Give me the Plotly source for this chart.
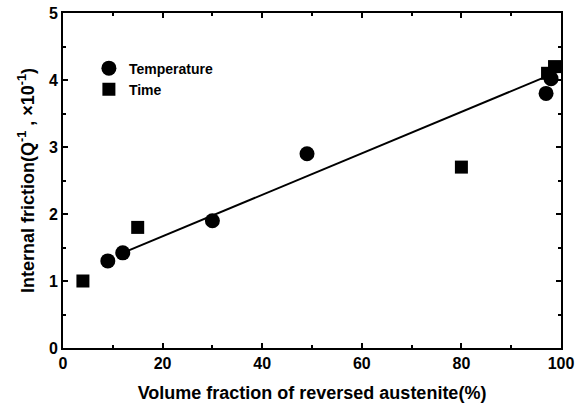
import plotly.graph_objects as go

temp_x = [9, 12, 30, 49, 97, 98]
temp_y = [1.3, 1.42, 1.9, 2.9, 3.8, 4.02]
time_x = [4, 15, 80, 97.3, 98.7]
time_y = [1.0, 1.8, 2.7, 4.1, 4.2]
fit_x = [12, 97]
fit_y = [1.42, 4.05]

FONT = "Liberation Sans, Arial, sans-serif"

fig = go.Figure()
fig.add_trace(go.Scatter(x=fit_x, y=fit_y, mode="lines",
                         line=dict(color="black", width=2), showlegend=False))
fig.add_trace(go.Scatter(x=temp_x, y=temp_y, mode="markers", name="Temperature",
                         marker=dict(symbol="circle", size=15, color="black")))
fig.add_trace(go.Scatter(x=time_x, y=time_y, mode="markers", name="Time",
                         marker=dict(symbol="square", size=13, color="black")))

axis_common = dict(showline=True, linecolor="black", linewidth=2, mirror="ticks",
                   ticks="inside", ticklen=5, tickwidth=1.5, tickcolor="black",
                   showgrid=False, zeroline=False, automargin=False,
                   tickfont=dict(family=FONT, size=16, color="black", weight="bold"))

fig.update_xaxes(range=[0, 100], dtick=20, tick0=0,
                 minor=dict(ticks="inside", ticklen=3, dtick=10, tickcolor="black", tickwidth=1.5),
                 title=dict(text="Volume fraction of reversed austenite(%)", standoff=16,
                            font=dict(family=FONT, size=18, color="black", weight="bold")),
                 **axis_common)
fig.update_yaxes(range=[0, 5], dtick=1, tick0=0,
                 minor=dict(ticks="inside", ticklen=3, dtick=0.5, tickcolor="black", tickwidth=1.5),
                 title=dict(text="Internal friction(Q<sup>-1</sup> , ×10<sup>-1</sup>)", standoff=10,
                            font=dict(family=FONT, size=18, color="black", weight="bold")),
                 **axis_common)

fig.update_layout(
    width=582, height=403,
    margin=dict(l=63, r=21, t=13, b=55),
    plot_bgcolor="white", paper_bgcolor="white",
    legend=dict(x=0.052, y=0.882, xanchor="left", yanchor="top",
                bgcolor="rgba(0,0,0,0)", tracegroupgap=0, itemsizing="trace",
                font=dict(family=FONT, size=14, color="black", weight="bold")),
)

fig.write_html("out.html")
